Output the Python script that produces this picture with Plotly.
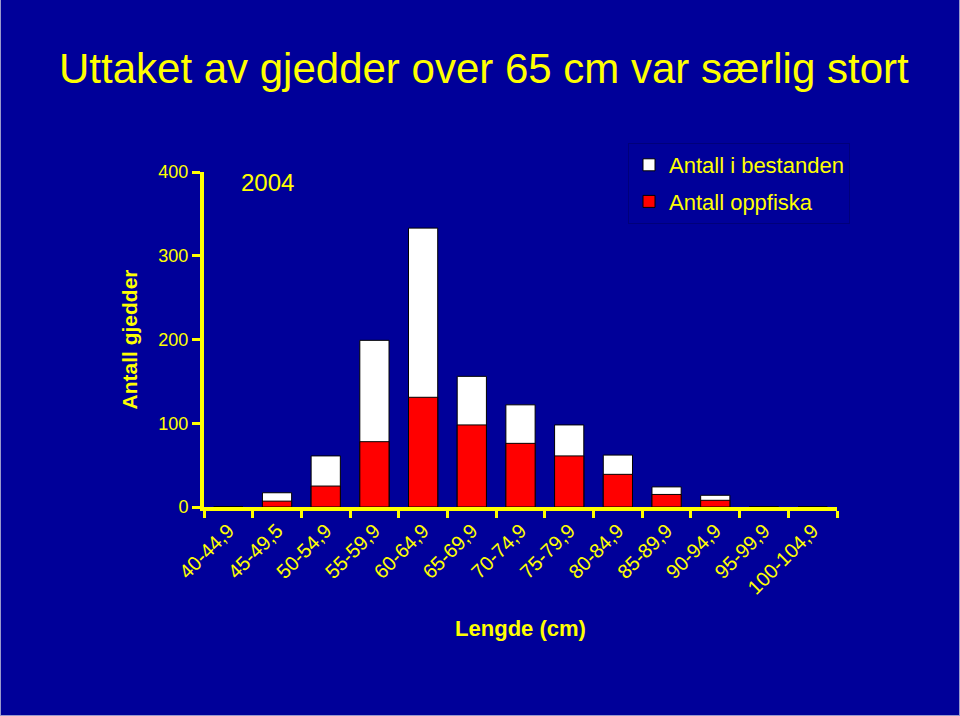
import plotly.graph_objects as go

categories = ["40-44,9", "45-49,5", "50-54,9", "55-59,9", "60-64,9", "65-69,9",
              "70-74,9", "75-79,9", "80-84,9", "85-89,9", "90-94,9", "95-99,9", "100-104,9"]
bestanden = [0, 17, 61, 199, 333, 156, 122, 98, 62, 24, 14, 0, 0]
oppfiska = [0, 7, 25, 78, 131, 98, 76, 61, 39, 15, 8, 0, 0]
y_ticks = [0, 100, 200, 300, 400]

BG = "#000099"
YEL = "#FFFF00"
FONT = "Liberation Sans, Arial, sans-serif"

fig = go.Figure()
fig.add_trace(go.Bar(x=categories, y=bestanden, name="Antall i bestanden",
                     marker=dict(color="white", line=dict(color="black", width=1)),
                     legendgroup="a"))
fig.add_trace(go.Bar(x=categories, y=oppfiska, name="Antall oppfiska",
                     marker=dict(color="#FF0000", line=dict(color="black", width=1)),
                     legendgroup="b"))

L, R, T, B = 204, 123, 172, 209
W, H = 960, 716
pw, ph = W - L - R, H - T - B

fig.update_layout(
    width=W, height=H,
    margin=dict(l=L, r=R, t=T, b=B, autoexpand=False),
    paper_bgcolor=BG, plot_bgcolor=BG,
    barmode="overlay", bargap=0.4,
    font=dict(family=FONT, color=YEL, size=18),
    title=dict(text="Uttaket av gjedder over 65 cm var særlig stort",
               x=0.504, xanchor="center", y=1 - 68 / H, yanchor="middle",
               font=dict(size=42, color=YEL, family=FONT)),
    legend=dict(x=(628 - L) / pw, y=(507 - 143) / ph, xanchor="left", yanchor="top",
                bgcolor=BG, bordercolor="#00007A", borderwidth=1,
                font=dict(size=22, color=YEL, family=FONT),
                traceorder="grouped", tracegroupgap=5),
    showlegend=True,
)

fig.update_xaxes(type="category", categoryorder="array", categoryarray=categories,
                 showline=True, linecolor=YEL, linewidth=4,
                 ticks="outside", tickson="boundaries", ticklen=7, tickwidth=3, tickcolor=YEL,
                 tickangle=-45, tickfont=dict(size=20, color=YEL),
                 showgrid=False, zeroline=False,
                 title=dict(text="<b>Lengde (cm)</b>", font=dict(size=22, color=YEL), standoff=24))
fig.update_yaxes(range=[0, 400], tickvals=y_ticks,
                 showline=True, linecolor=YEL, linewidth=4,
                 ticks="outside", ticklen=8, tickwidth=3, tickcolor=YEL,
                 tickfont=dict(size=18, color=YEL),
                 showgrid=False, zeroline=False,
                 title=dict(text="<b>Antall gjedder</b>", font=dict(size=21, color=YEL), standoff=16))

fig.add_annotation(text="2004", x=(267 - L) / pw, y=(507 - 182) / ph, xref="paper", yref="paper",
                   showarrow=False, xanchor="center", yanchor="middle",
                   font=dict(size=24, color=YEL, family=FONT))

# slide border
x0, x1 = -L / pw, (W - L) / pw
y0, y1 = -B / ph, (H - B) / ph
for (a, b, c, d) in [(x0, y0, x0, y1), (x1, y0, x1, y1), (x0, y0, x1, y0)]:
    fig.add_shape(type="line", xref="paper", yref="paper", x0=a, y0=b, x1=c, y1=d,
                  line=dict(color="#9999CC", width=2))

fig.write_html("out.html")
